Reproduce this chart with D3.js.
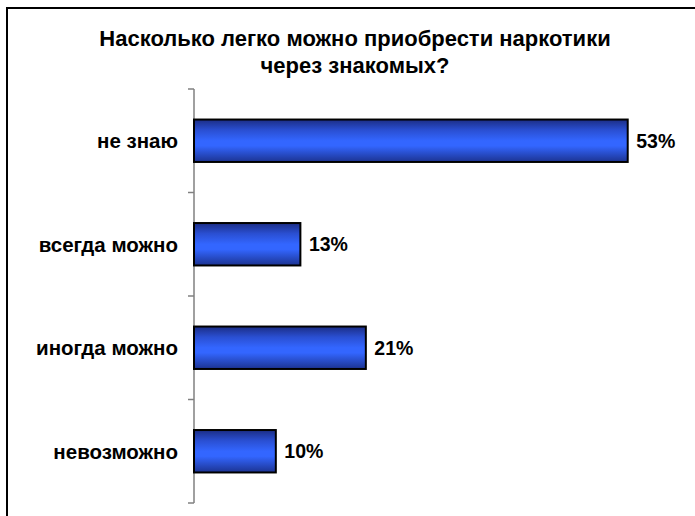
<!DOCTYPE html>
<html>
<head>
<meta charset="utf-8">
<script src="https://cdn.jsdelivr.net/npm/d3@7"></script>
<style>
  html, body { margin: 0; padding: 0; background: #fff; }
  svg { display: block; }
  text { font-family: Arial, "Liberation Sans", sans-serif; font-weight: bold; fill: #000; }
</style>
</head>
<body>
<svg id="chart" width="695" height="516"></svg>
<script>
// Survey answers, top to bottom
const categories = ["не знаю", "всегда можно", "иногда можно", "невозможно"];
const values = [53, 13, 21, 10];
const valueLabels = ["53%", "13%", "21%", "10%"];
const titleLines = ["Насколько легко можно приобрести наркотики", "через знакомых?"];

const svg = d3.select("#chart");

// chart frame (runs off the right and bottom edges)
svg.append("rect")
  .attr("x", 7).attr("y", 8)
  .attr("width", 720).attr("height", 540)
  .attr("fill", "#fff").attr("stroke", "#000").attr("stroke-width", 2);

// bar gradient: dark edges, bright blue middle
const defs = svg.append("defs");
const grad = defs.append("linearGradient")
  .attr("id", "barGrad").attr("x1", 0).attr("y1", 0).attr("x2", 0).attr("y2", 1);
[[0, "#1b2d85"], [0.25, "#2a4fd2"], [0.5, "#3366ff"], [0.62, "#3366ff"], [1, "#1c3391"]]
  .forEach(([o, c]) => grad.append("stop").attr("offset", o).attr("stop-color", c));

const x = d3.scaleLinear().domain([0, 60]).range([194, 685]);
const y = d3.scaleBand().domain(categories).range([89, 503]).paddingInner(0.59).paddingOuter(0.295);

// title
svg.append("g").selectAll("text").data(titleLines).join("text")
  .attr("x", 355).attr("y", (d, i) => 46 + i * 27)
  .attr("text-anchor", "middle")
  .style("font-size", "22px")
  .text(d => d);

// category axis with ticks between bands
const axisG = svg.append("g");
axisG.append("line")
  .attr("x1", 194).attr("x2", 194).attr("y1", 89).attr("y2", 503)
  .attr("stroke", "#808080").attr("stroke-width", 1.5);
const tickYs = d3.range(categories.length + 1).map(i => 89 + i * y.step());
axisG.selectAll("line.tick").data(tickYs).join("line")
  .attr("class", "tick")
  .attr("x1", 188).attr("x2", 194).attr("y1", d => d).attr("y2", d => d)
  .attr("stroke", "#808080").attr("stroke-width", 1.5);
axisG.selectAll("text").data(categories).join("text")
  .attr("x", 178).attr("y", d => y(d) + y.bandwidth() / 2)
  .attr("dy", "0.36em")
  .attr("text-anchor", "end")
  .style("font-size", "20.5px")
  .text(d => d);

// bars
svg.append("g").selectAll("rect").data(categories).join("rect")
  .attr("x", x(0))
  .attr("y", d => y(d))
  .attr("width", (d, i) => x(values[i]) - x(0))
  .attr("height", y.bandwidth())
  .attr("fill", "url(#barGrad)")
  .attr("stroke", "#000").attr("stroke-width", 2);

// value labels
svg.append("g").selectAll("text").data(categories).join("text")
  .attr("x", (d, i) => x(values[i]) + 8.5)
  .attr("y", d => y(d) + y.bandwidth() / 2)
  .attr("dy", "0.37em")
  .style("font-size", "19.5px")
  .text((d, i) => valueLabels[i]);
</script>
</body>
</html>
